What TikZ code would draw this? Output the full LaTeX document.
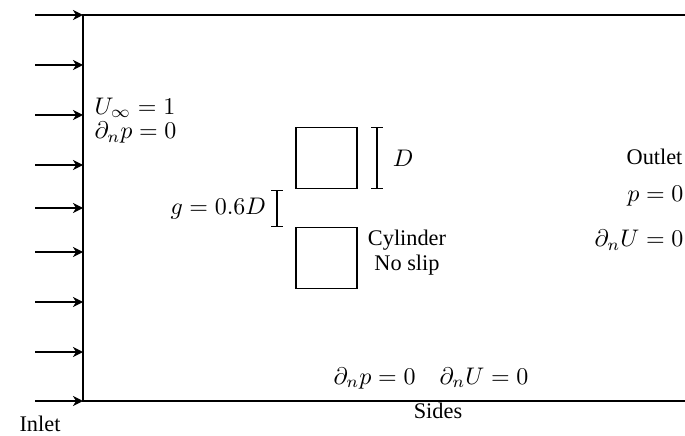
\documentclass[tikz,border=0pt]{standalone}
\usepackage{fontspec}
\setmainfont{Liberation Serif}
\usepackage{amsmath}
\usetikzlibrary{arrows.meta}

\newcommand{\txtsize}{\fontsize{9.3}{10.6}\selectfont}

\begin{document}
\begin{tikzpicture}[
        x=0.4167pt,
        y=-0.4167pt,
        line width=0.5pt,
        inflow/.style={-{Stealth[length=4.2pt,width=4.2pt,inset=1.3pt]}},
        cyl/.style={
            draw,
            minimum size=25.4pt,
            inner sep=0pt
        },
        dim/.style={{Bar[width=4.6pt]}-{Bar[width=4.6pt]}},
        lbl/.style={
            font=\txtsize,
            align=center
        }
    ]
    \useasboundingbox (0,0) rectangle (685,436);

    \draw (685,15) -- (83,15) -- (83,401) -- (685,401);

    \foreach \y [count=\i] in {15,65,115,165,208,252,302,352,401} {
        \coordinate (in\i) at (35,\y);
        \coordinate (wall\i) at (83,\y);
        \draw[inflow] (in\i) -- (wall\i);
    }

    \node[anchor=west] (uinf) at (86,108) {$U_\infty = 1$};
    \node[anchor=west] (dpin) at (86,133) {$\partial_n p = 0$};

    \node[cyl] (cyltop) at (326.5,158) {};
    \node[cyl] (cylbot) at (326.5,258) {};

    \coordinate (dtop) at (377,127);
    \coordinate (dbot) at (377,189);
    \draw[dim] (dtop) -- (dbot) node[midway, right=3pt] (dlabel) {$D$};

    \coordinate (gtop) at (277,190);
    \coordinate (gbot) at (277,227);
    \draw[dim] (gtop) -- (gbot) node[midway, left=1pt] (glabel) {$g = 0.6D$};

    \node[lbl] (cylname) at (407,240) {Cylinder};
    \node[lbl] (noslip) at (407,265) {No slip};

    \node[lbl, anchor=east] (outlet) at (691,157) {Outlet};
    \node[anchor=east] (pout) at (692,196) {$p = 0$};
    \node[anchor=east] (duout) at (692,240) {$\partial_n U = 0$};

    \node (sidebc) at (431,378) {$\partial_n p = 0 \quad \partial_n U = 0$};
    \node[lbl] (sides) at (438,411) {Sides};
    \node[lbl] (inlet) at (40,424) {Inlet};
\end{tikzpicture}
\end{document}
